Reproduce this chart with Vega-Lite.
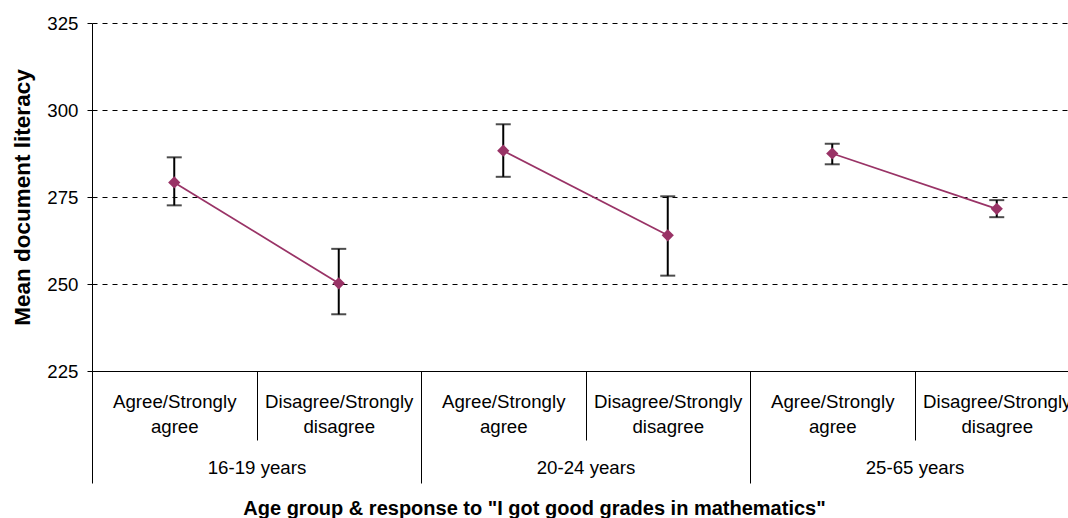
{
  "$schema": "https://vega.github.io/schema/vega-lite/v6.json",
  "width": 987,
  "height": 348,
  "autosize": {"type": "none"},
  "padding": {"left": 92, "top": 23, "right": 0, "bottom": 147},
  "background": "white",
  "config": {"font": "Liberation Sans", "view": {"stroke": null}},
  "data": {
    "values": [
      {"key": "1a", "grp": "16-19 years", "mean": 279.2, "lo": 272.6, "hi": 286.4},
      {"key": "1d", "grp": "16-19 years", "mean": 250.2, "lo": 241.3, "hi": 260.1},
      {"key": "2a", "grp": "20-24 years", "mean": 288.3, "lo": 280.8, "hi": 295.9},
      {"key": "2d", "grp": "20-24 years", "mean": 264.0, "lo": 252.4, "hi": 275.2},
      {"key": "3a", "grp": "25-65 years", "mean": 287.5, "lo": 284.4, "hi": 290.3},
      {"key": "3d", "grp": "25-65 years", "mean": 271.6, "lo": 269.2, "hi": 274.1}
    ]
  },
  "layer": [
    {
      "encoding": {
        "x": {
          "field": "key",
          "type": "nominal",
          "scale": {"paddingInner": 0, "paddingOuter": 0},
          "axis": {
            "title": null,
            "orient": "bottom",
            "labelExpr": "indexof(['1a','2a','3a'], datum.value) >= 0 ? ['Agree/Strongly','agree'] : indexof(['1d','2d','3d'], datum.value) >= 0 ? ['Disagree/Strongly','disagree'] : ''",
            "labelAngle": 0,
            "labelFontSize": 18.67,
            "labelLineHeight": 25,
            "labelColor": "black",
            "labelBaseline": "alphabetic",
            "labelPadding": -33,
            "tickBand": "extent",
            "tickSize": 69,
            "tickColor": "black",
            "domainColor": "black",
            "labelOverlap": false,
            "labelBound": false,
            "labelFlush": false
          }
        }
      },
      "layer": [
        {
          "mark": {"type": "rule", "color": "black", "strokeWidth": 2},
          "encoding": {
            "y": {"field": "lo", "type": "quantitative", "scale": {"domain": [225, 325], "nice": false, "zero": false},
              "axis": {"title": "Mean document literacy", "values": [225, 250, 275, 300, 325], "grid": true, "gridColor": "black", "gridDash": [5, 5], "gridWidth": 1, "domainColor": "black", "tickColor": "black", "tickSize": 5, "labelFontSize": 18.67, "labelColor": "black", "labelPadding": 9, "titleFontSize": 22.5, "titleFontWeight": "bold", "titleColor": "black", "titleX": -63, "titleY": 174, "titleAngle": -90, "titleBaseline": "alphabetic", "titleAlign": "center"}},
            "y2": {"field": "hi"}
          }
        },
        {
          "mark": {"type": "tick", "color": "black", "thickness": 2, "size": 15},
          "encoding": {
            "y": {"field": "lo", "type": "quantitative", "scale": {"domain": [225, 325], "nice": false, "zero": false},
              "axis": {"title": "Mean document literacy", "values": [225, 250, 275, 300, 325], "grid": true, "gridColor": "black", "gridDash": [5, 5], "gridWidth": 1, "domainColor": "black", "tickColor": "black", "tickSize": 5, "labelFontSize": 18.67, "labelColor": "black", "labelPadding": 9, "titleFontSize": 22.5, "titleFontWeight": "bold", "titleColor": "black", "titleX": -63, "titleY": 174, "titleAngle": -90, "titleBaseline": "alphabetic", "titleAlign": "center"}}
          }
        },
        {
          "mark": {"type": "tick", "color": "black", "thickness": 2, "size": 15},
          "encoding": {
            "y": {"field": "hi", "type": "quantitative", "scale": {"domain": [225, 325], "nice": false, "zero": false},
              "axis": {"title": "Mean document literacy", "values": [225, 250, 275, 300, 325], "grid": true, "gridColor": "black", "gridDash": [5, 5], "gridWidth": 1, "domainColor": "black", "tickColor": "black", "tickSize": 5, "labelFontSize": 18.67, "labelColor": "black", "labelPadding": 9, "titleFontSize": 22.5, "titleFontWeight": "bold", "titleColor": "black", "titleX": -63, "titleY": 174, "titleAngle": -90, "titleBaseline": "alphabetic", "titleAlign": "center"}}
          }
        },
        {
          "mark": {"type": "line", "color": "#993366", "strokeWidth": 1.75},
          "encoding": {
            "detail": {"field": "grp"},
            "y": {"field": "mean", "type": "quantitative", "scale": {"domain": [225, 325], "nice": false, "zero": false},
              "axis": {"title": "Mean document literacy", "values": [225, 250, 275, 300, 325], "grid": true, "gridColor": "black", "gridDash": [5, 5], "gridWidth": 1, "domainColor": "black", "tickColor": "black", "tickSize": 5, "labelFontSize": 18.67, "labelColor": "black", "labelPadding": 9, "titleFontSize": 22.5, "titleFontWeight": "bold", "titleColor": "black", "titleX": -63, "titleY": 174, "titleAngle": -90, "titleBaseline": "alphabetic", "titleAlign": "center"}}
          }
        },
        {
          "mark": {"type": "point", "shape": "diamond", "filled": true, "color": "#993366", "size": 150, "opacity": 1},
          "encoding": {
            "y": {"field": "mean", "type": "quantitative", "scale": {"domain": [225, 325], "nice": false, "zero": false},
              "axis": {"title": "Mean document literacy", "values": [225, 250, 275, 300, 325], "grid": true, "gridColor": "black", "gridDash": [5, 5], "gridWidth": 1, "domainColor": "black", "tickColor": "black", "tickSize": 5, "labelFontSize": 18.67, "labelColor": "black", "labelPadding": 9, "titleFontSize": 22.5, "titleFontWeight": "bold", "titleColor": "black", "titleX": -63, "titleY": 174, "titleAngle": -90, "titleBaseline": "alphabetic", "titleAlign": "center"}}
          }
        }
      ]
    },
    {
      "mark": {"type": "point", "opacity": 0},
      "encoding": {
        "x": {
          "field": "grp",
          "type": "nominal",
          "scale": {"paddingInner": 0, "paddingOuter": 0},
          "axis": {
            "orient": "bottom",
            "title": "Age group & response to \"I got good grades in mathematics\"",
            "titleFontSize": 20,
            "titleFontWeight": "bold",
            "titleColor": "black",
            "titleX": 442,
            "titleY": 143,
            "titleAlign": "center",
            "titleBaseline": "alphabetic",
            "labelAngle": 0,
            "labelFontSize": 18.67,
            "labelColor": "black",
            "labelBaseline": "alphabetic",
            "labelPadding": -10,
            "tickBand": "extent",
            "tickSize": 112,
            "tickColor": "black",
            "domain": false,
            "labelOverlap": false,
            "labelBound": false,
            "labelFlush": false
          }
        },
        "y": {"field": "mean", "type": "quantitative", "scale": {"domain": [225, 325], "nice": false, "zero": false},
          "axis": {"title": "Mean document literacy", "values": [225, 250, 275, 300, 325], "grid": true, "gridColor": "black", "gridDash": [5, 5], "gridWidth": 1, "domainColor": "black", "tickColor": "black", "tickSize": 5, "labelFontSize": 18.67, "labelColor": "black", "labelPadding": 9, "titleFontSize": 22.5, "titleFontWeight": "bold", "titleColor": "black", "titleX": -63, "titleY": 174, "titleAngle": -90, "titleBaseline": "alphabetic", "titleAlign": "center"}}
      }
    }
  ],
  "resolve": {"scale": {"x": "independent"}, "axis": {"x": "independent"}}
}
